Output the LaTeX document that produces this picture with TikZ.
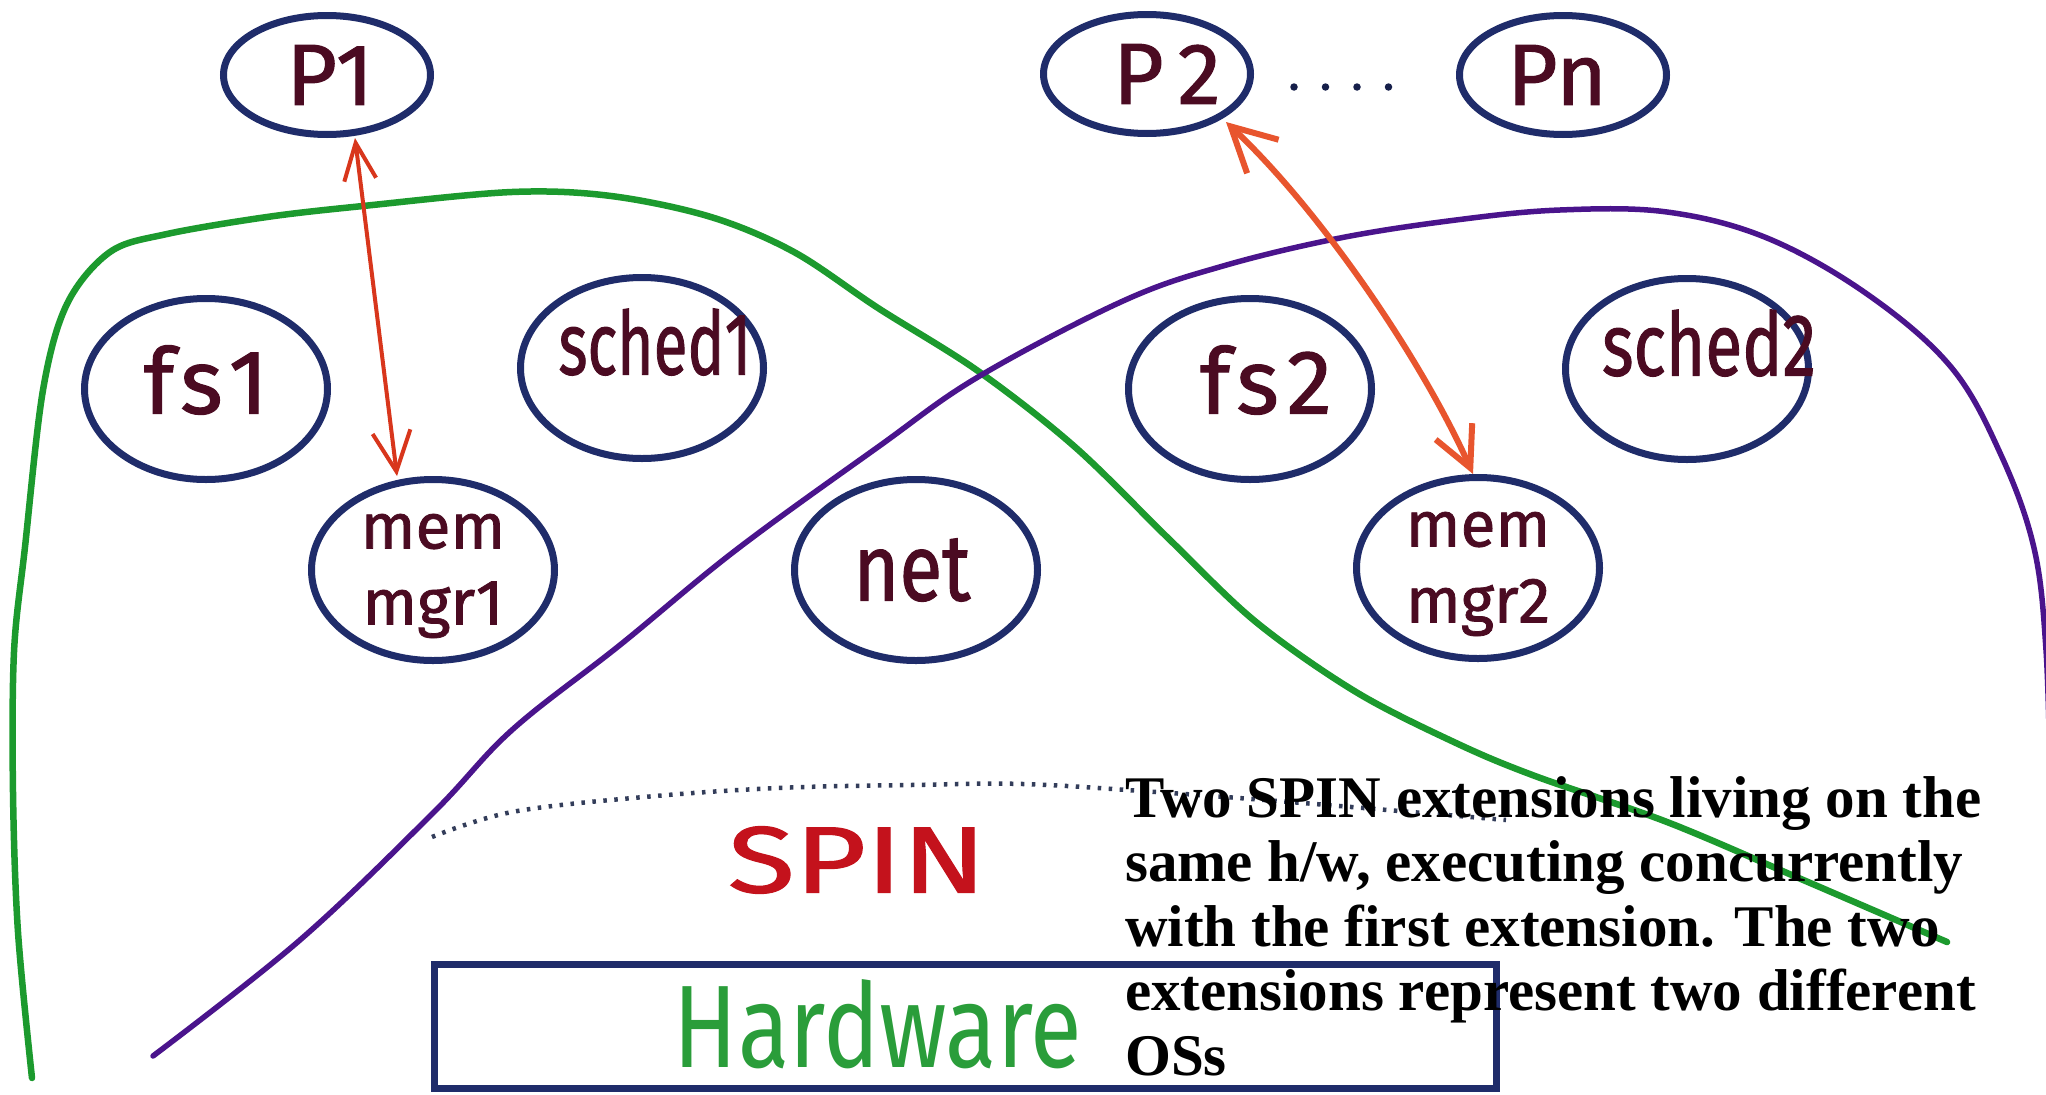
\documentclass[tikz,border=0pt]{standalone}
\usepackage{fontspec}
\setmainfont{Liberation Serif}
\newfontfamily\handfont[FakeBold=1.2]{Fira Sans}
\newfontfamily\handlight{Fira Sans}
\usetikzlibrary{shapes.geometric,arrows.meta}

\definecolor{inkblue}{HTML}{1F2C6A}
\definecolor{inkmaroon}{HTML}{4B0B22}
\definecolor{osgreen}{HTML}{1C9A2E}
\definecolor{ospurple}{HTML}{4A148C}
\definecolor{linkred}{HTML}{D8361C}
\definecolor{linkorange}{HTML}{E8552E}
\definecolor{spinred}{HTML}{C4121C}
\definecolor{hwgreen}{HTML}{2A9D3A}
\definecolor{dotgrey}{HTML}{333D5A}

\begin{document}
\begin{tikzpicture}[x=1pt,y=-1pt,
  proc/.style={ellipse,draw=inkblue,line width=7pt,inner sep=0pt,
    minimum width=207pt,minimum height=119pt},
  comp/.style={ellipse,draw=inkblue,line width=7pt,inner sep=0pt,
    minimum width=243pt,minimum height=181pt},
  lbl/.style={text=inkmaroon,inner sep=0pt,font=\handfont},
  plbl/.style={lbl,font=\handfont\fontsize{87}{87}\selectfont},
  fslbl/.style={lbl,font=\handfont\fontsize{91}{91}\selectfont},
  mgrlbl/.style={lbl,align=center,font=\handfont\fontsize{64}{76}\selectfont},
  boundary/.style={line cap=round,line join=round},
  spinline/.style={dotgrey,line width=4.5pt,dash pattern=on 3.5pt off 7.5pt},
  procdots/.style={inkblue!70!black,line width=7.5pt,line cap=round,dash pattern=on 0pt off 31.5pt},
  linkA/.style={linkred,line width=4pt,
    {Straight Barb[length=37pt,width=32pt]}-{Straight Barb[length=40pt,width=38pt]}},
  linkB/.style={linkorange,line width=6pt,
    {Straight Barb[length=44pt,width=46pt]}-{Straight Barb[length=40pt,width=40pt]}},
  hwbox/.style={draw=inkblue,line width=7pt,inner sep=0pt,minimum width=1062pt,minimum height=124pt}
]
\useasboundingbox (0,0) rectangle (2046,1095);
\fill[white] (0,0) rectangle (2046,1095);

% extension boundaries
\draw[boundary,osgreen,line width=6.5pt] plot[smooth,tension=0.55] coordinates {
  (32,1078) (18,932) (13,792) (14,652) (25,547) (43,390) (67,304) (110,252)
  (167,234) (267,217) (363,206) (512,192) (611,196) (711,217) (794,252)
  (878,308) (978,371) (1075,447) (1170,540) (1256,622) (1356,692)
  (1456,743) (1535,776) (1667,822) (1801,879) (1947,942)};
\draw[boundary,ospurple,line width=5.5pt] plot[smooth,tension=0.6] coordinates {
  (153,1056) (300,940) (433,813) (512,730) (620,645) (736,550) (878,447)
  (978,377) (1123,301) (1223,266) (1340,238) (1456,220) (1560,210)
  (1667,212) (1767,238) (1867,294) (1951,367) (2001,455) (2034,548)
  (2046,650) (2050,780)};

% SPIN layer
\draw[spinline] plot[smooth,tension=0.6] coordinates {
  (432,837) (512,812) (644,797) (778,788) (911,785) (1023,784) (1156,792)
  (1290,802) (1423,813) (1506,820)};

% processes
\node[proc,label={[plbl,xshift=3pt]center:P1}] (P1) at (327,75) {};
\node[proc,label={[plbl,xshift=20pt]center:P\kern14pt 2}] (P2) at (1147,74) {};
\node[proc,label={[plbl,xshift=-6pt]center:Pn}] (Pn) at (1563,75) {};
\draw[procdots,shorten <=40pt,shorten >=41pt] ([yshift=-13pt]P2.east) -- ([yshift=-12pt]Pn.west);

% extension components
\node[comp,label={[fslbl,yshift=9pt]center:f\kern6pt s\kern6pt 1}] (fs1) at (206,389) {};
\node[comp,label={[lbl,xshift=13pt,yshift=26pt]center:\resizebox{193pt}{66pt}{sched1}}] (sched1) at (642,368) {};
\node[comp,label={[mgrlbl,yshift=-6pt]center:mem\\mgr1}] (mem1) at (433,570) {};
\node[comp,label={[lbl,xshift=-4pt]center:\resizebox{117pt}{62pt}{net}}] (net) at (916,570) {};
\node[comp,label={[fslbl,xshift=16pt,yshift=9pt]center:f\kern6pt s\kern8pt 2}] (fs2) at (1250,389) {};
\node[comp,label={[lbl,xshift=22pt,yshift=26pt]center:\resizebox{214pt}{66pt}{sched2}}] (sched2) at (1687,369) {};
\node[comp,label={[mgrlbl,yshift=-6pt]center:mem\\mgr2}] (mem2) at (1478,568) {};

% process <-> memory manager links
\draw[linkA] ([xshift=28pt]P1.south) -- ([xshift=-36pt]mem1.north);
\draw[linkB] ([xshift=79pt,yshift=-48pt]P2.center)
  .. controls (1321,211) and (1422,360) .. ([xshift=-5pt]mem2.north);

% kernel and hardware
\node[text=spinred,inner sep=0pt] (spin) at (857,860) {\handfont\resizebox{258pt}{66pt}{SPIN}};
\node[hwbox] (hw) at (965,1026) {};
\node[text=hwgreen,inner sep=0pt] (hwlabel) at (878,1024) {\handlight\resizebox{408pt}{88pt}{Hardware}};

% caption
\node[anchor=north west,inner sep=0pt,align=left,
  font=\bfseries\fontsize{59}{64.5}\selectfont] (note) at (1125,776)
  {Two SPIN extensions living on the\\
   same h/w, executing concurrently\\
   with the first extension. The two\\
   extensions represent two different\\
   OSs};
\end{tikzpicture}
\end{document}
